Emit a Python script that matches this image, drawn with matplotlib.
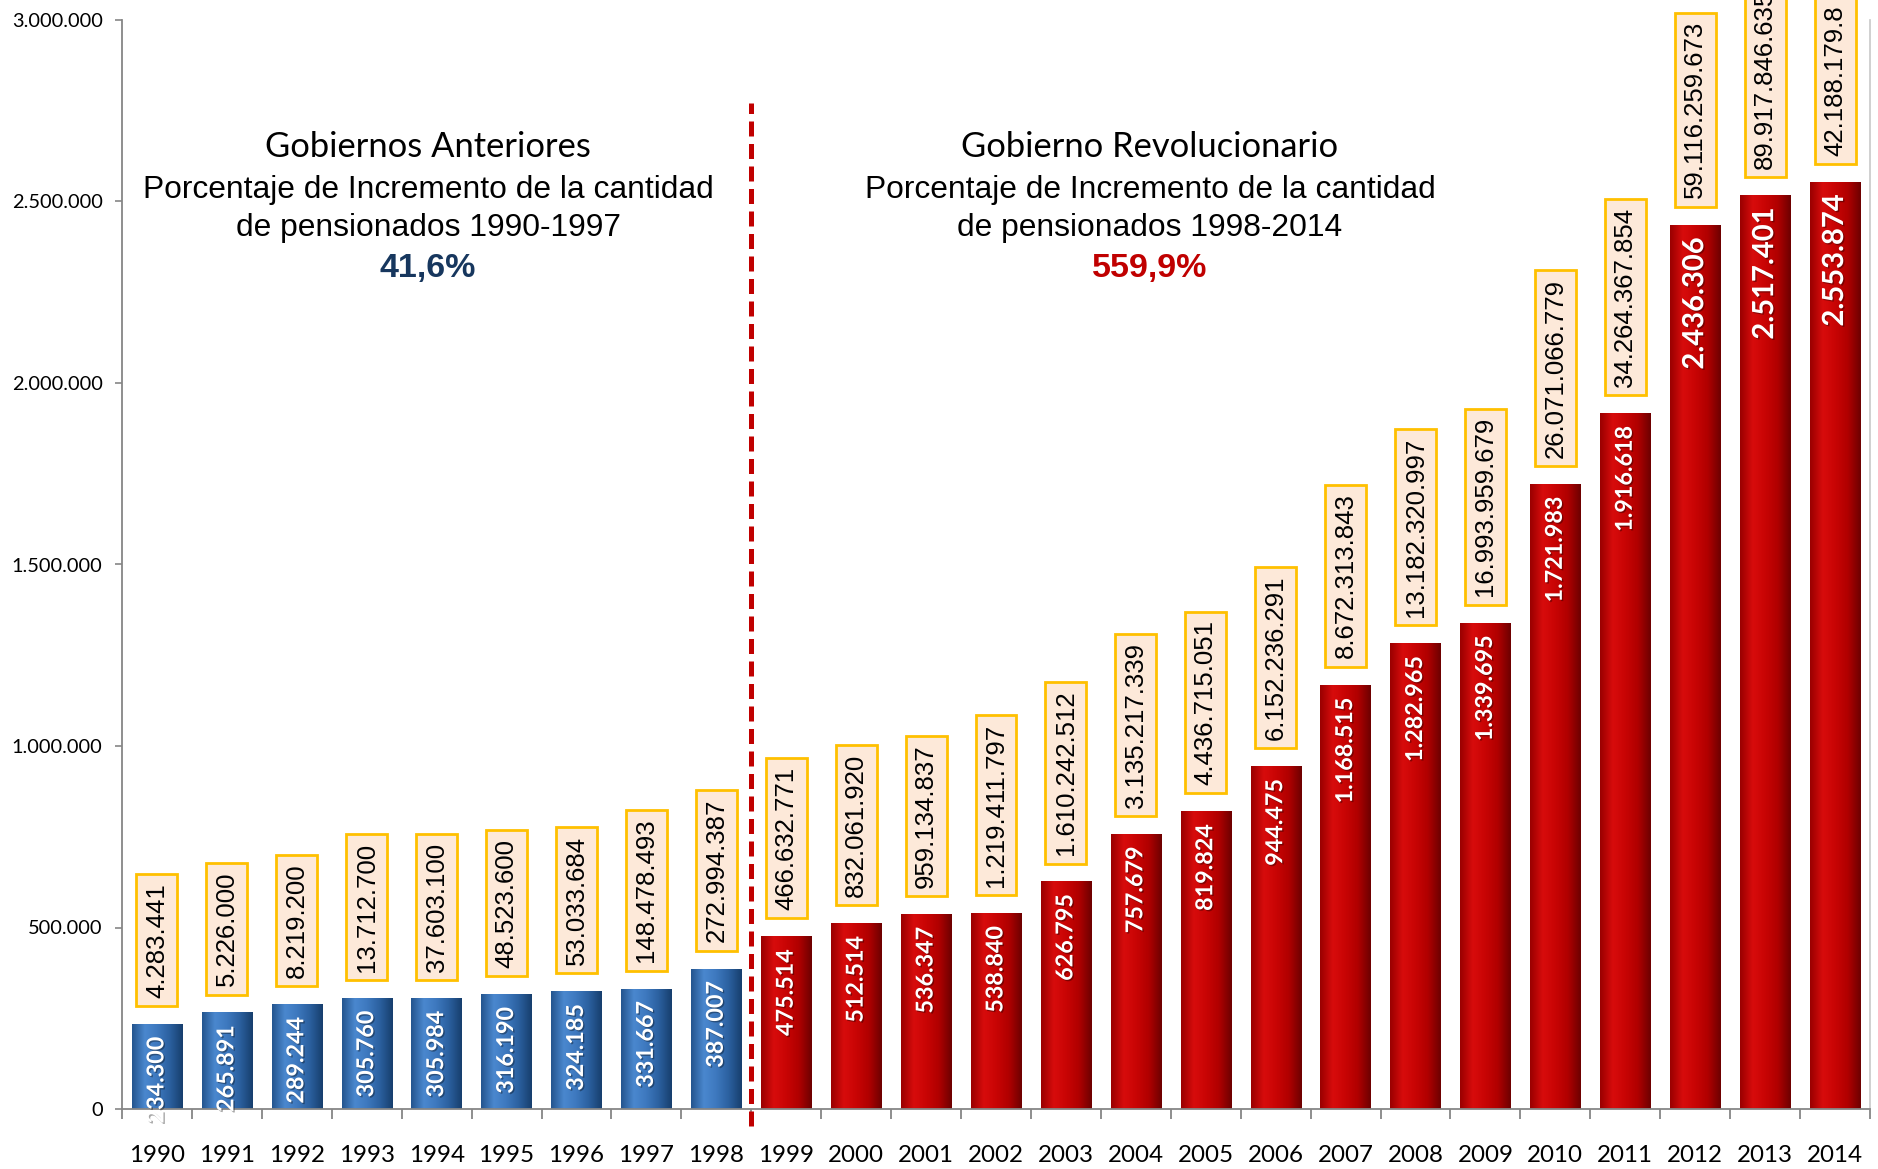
import numpy as np
import matplotlib.pyplot as plt
import matplotlib.patheffects as pe
from matplotlib.colors import LinearSegmentedColormap

# datos
anios = ['1990', '1991', '1992', '1993', '1994', '1995', '1996', '1997', '1998',
         '1999', '2000', '2001', '2002', '2003', '2004', '2005', '2006', '2007',
         '2008', '2009', '2010', '2011', '2012', '2013', '2014']
pensionados = [234300, 265891, 289244, 305760, 305984, 316190, 324185, 331667, 387007,
               475514, 512514, 536347, 538840, 626795, 757679, 819824, 944475, 1168515,
               1282965, 1339695, 1721983, 1916618, 2436306, 2517401, 2553874]
montos = ['4.283.441', '5.226.000', '8.219.200', '13.712.700', '37.603.100', '48.523.600',
          '53.033.684', '148.478.493', '272.994.387', '466.632.771', '832.061.920',
          '959.134.837', '1.219.411.797', '1.610.242.512', '3.135.217.339', '4.436.715.051',
          '6.152.236.291', '8.672.313.843', '13.182.320.997', '16.993.959.679',
          '26.071.066.779', '34.264.367.854', '59.116.259.673', '89.917.846.635',
          '42.188.179.8']
n_anteriores = 9  # 1990-1998 en azul

W, H = 1878, 1169
fig = plt.figure(figsize=(W / 100, H / 100), dpi=100)
ax = fig.add_axes([122 / W, 1 - 1109 / H, (1870 - 122) / W, (1109 - 20) / H])

x = np.arange(len(anios))
colores = ['#3A72B8'] * n_anteriores + ['#C00000'] * (len(anios) - n_anteriores)
bars = ax.bar(x, pensionados, width=0.72, color=colores, zorder=2)

cm_azul = LinearSegmentedColormap.from_list('az', ['#24558F', '#4A88CF', '#3D78BE', '#2B609F', '#173F6E'])
cm_rojo = LinearSegmentedColormap.from_list('ro', ['#9A0000', '#D80C0C', '#C80404', '#B00000', '#6E0000'])
grad = np.linspace(0, 1, 64).reshape(1, -1)
for i, b in enumerate(bars):
    cm = cm_azul if i < n_anteriores else cm_rojo
    im = ax.imshow(grad, cmap=cm, extent=[b.get_x(), b.get_x() + b.get_width(), 0, b.get_height()],
                   aspect='auto', zorder=2.5, interpolation='bicubic')
    im.set_clip_path(b)

ax.set_xlim(-0.5, len(anios) - 0.5)
ax.set_ylim(0, 3000000)

# etiquetas
sombra = [pe.withSimplePatchShadow(offset=(1, -1), shadow_rgbFace='black', alpha=0.35)]
for i, (v, m) in enumerate(zip(pensionados, montos)):
    fs = 21 if i >= 22 else 16.8
    ax.annotate(f"{v:,}".replace(',', '.'), (x[i], v), xytext=(0, -9), textcoords='offset points',
                rotation=90, ha='center', va='top', color='white', fontsize=fs,
                fontweight='bold', family='Lato', zorder=4, annotation_clip=False,
                path_effects=sombra)
    ax.annotate(m, (x[i], v), xytext=(0, 19), textcoords='offset points', rotation=90,
                ha='center', va='bottom', fontsize=18.5, family='Liberation Sans',
                annotation_clip=False, zorder=4,
                bbox=dict(boxstyle='square,pad=0.33', fc='#FDE9D9', ec='#FFC000', lw=2))

# linea divisoria
ax.plot([n_anteriores - 0.5] * 2, [-47000, 2771000], color='#C00000', lw=3.6,
        ls=(0, (3, 1.5)), clip_on=False, zorder=5)

# ejes
gris = '#868686'
for s in ['left', 'bottom']:
    ax.spines[s].set_color(gris)
    ax.spines[s].set_linewidth(1.3)
ax.spines['top'].set_visible(False)
ax.spines['right'].set_color('#C8C8C8')
ax.spines['right'].set_linewidth(1.2)

yt = np.arange(0, 3000001, 500000)
ax.set_yticks(yt)
ax.set_yticklabels([f"{int(t):,}".replace(',', '.') for t in yt], family='Lato', fontsize=14.4)
ax.tick_params(axis='y', color=gris, length=5, width=1.2, pad=9)
ax.set_xticks(x)
ax.set_xticklabels(anios, family='Lato', fontsize=17.4)
ax.tick_params(axis='x', length=0, pad=26)
ax.set_xticks(np.arange(-0.5, len(anios), 1), minor=True)
ax.tick_params(axis='x', which='minor', length=7, width=1.3, color=gris)

# textos
for cx, tit, periodo, pct, col in [(428, 'Gobiernos Anteriores', '1990-1997', '41,6%', '#17375E'),
                                   (1150, 'Gobierno Revolucionario', '1998-2014', '559,9%', '#C00000')]:
    fig.text(cx / W, 1 - 147 / H, tit, ha='center', va='center', fontsize=24.8, family='Lato')
    fig.text(cx / W, 1 - 190 / H, 'Porcentaje de Incremento de la cantidad', ha='center',
             va='center', fontsize=22.9, family='Liberation Sans')
    fig.text(cx / W, 1 - 228 / H, 'de pensionados ' + periodo, ha='center', va='center',
             fontsize=22.9, family='Liberation Sans')
    fig.text(cx / W, 1 - 268 / H, pct, ha='center', va='center', fontsize=24.5,
             family='Liberation Sans', fontweight='bold', color=col)

fig.savefig('out.png', dpi=100)
